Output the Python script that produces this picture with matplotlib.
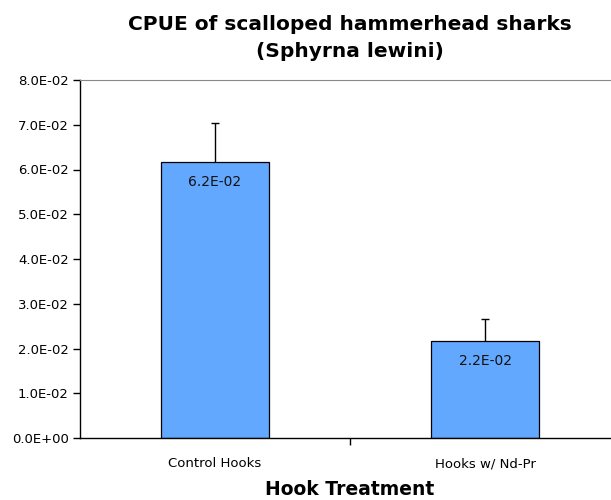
import numpy as np
import matplotlib
matplotlib.use("Agg")
import matplotlib.pyplot as plt

# data
categories = ["Control Hooks", "Hooks w/ Nd-Pr"]
cpue = [0.0616, 0.0217]
cpue_err = [0.0089, 0.0050]
bar_labels = ["6.2E-02", "2.2E-02"]
y_ticks = [0.0, 0.01, 0.02, 0.03, 0.04, 0.05, 0.06, 0.07, 0.08]
y_tick_labels = ["0.0E+00", "1.0E-02", "2.0E-02", "3.0E-02", "4.0E-02",
                 "5.0E-02", "6.0E-02", "7.0E-02", "8.0E-02"]

plt.rcParams['font.family'] = ['DejaVu Sans']

fig = plt.figure(figsize=(6.11, 5.0), dpi=100)
ax = fig.add_axes([80 / 611, 62 / 500, 540 / 611, 358 / 500])

x = np.arange(len(categories))
ax.bar(x, cpue, width=0.4, color='#63A8FF', edgecolor='black', linewidth=0.9, zorder=2)
# upper error bars only
ax.vlines(x, cpue, np.array(cpue) + np.array(cpue_err), color='black', linewidth=1.0, zorder=3)
ax.hlines(np.array(cpue) + np.array(cpue_err), x - 0.016, x + 0.016, color='black',
          linewidth=1.0, zorder=3)

# value labels just inside the top of each bar
for xi, v, lab in zip(x, cpue, bar_labels):
    ax.text(xi, v - 0.0045, lab, ha='center', va='center', fontsize=10, color='#111111')

ax.set_xlim(-0.5, 1.5)
ax.set_ylim(0, 0.08)
ax.set_yticks(y_ticks)
ax.set_yticklabels(y_tick_labels, fontsize=9.5)

# category labels without ticks, one tick between the categories
ax.set_xticks([0.5])
ax.set_xticklabels([""])
ax.tick_params(axis='x', length=5, width=1, direction='out')
ax.tick_params(axis='y', length=5, width=1, direction='out', pad=3)
for xi, c in zip(x, categories):
    ax.text(xi, -0.0065, c, ha='center', va='baseline', fontsize=9.5,
            transform=ax.transData, clip_on=False)

ax.set_xlabel("Hook Treatment", fontsize=13.5, fontweight='bold')
ax.xaxis.set_label_coords((350 - 80) / 540, -0.118)

ax.spines['left'].set_linewidth(1.0)
ax.spines['bottom'].set_linewidth(1.0)
ax.spines['top'].set_color('#888888')
ax.spines['top'].set_linewidth(0.8)
ax.spines['right'].set_visible(False)

fig.text(350 / 611, 1 - 38 / 500, "CPUE of scalloped hammerhead sharks\n(Sphyrna lewini)",
         ha='center', va='center', fontsize=14.5, fontweight='bold', linespacing=1.55)

fig.savefig("out.png", dpi=100)
